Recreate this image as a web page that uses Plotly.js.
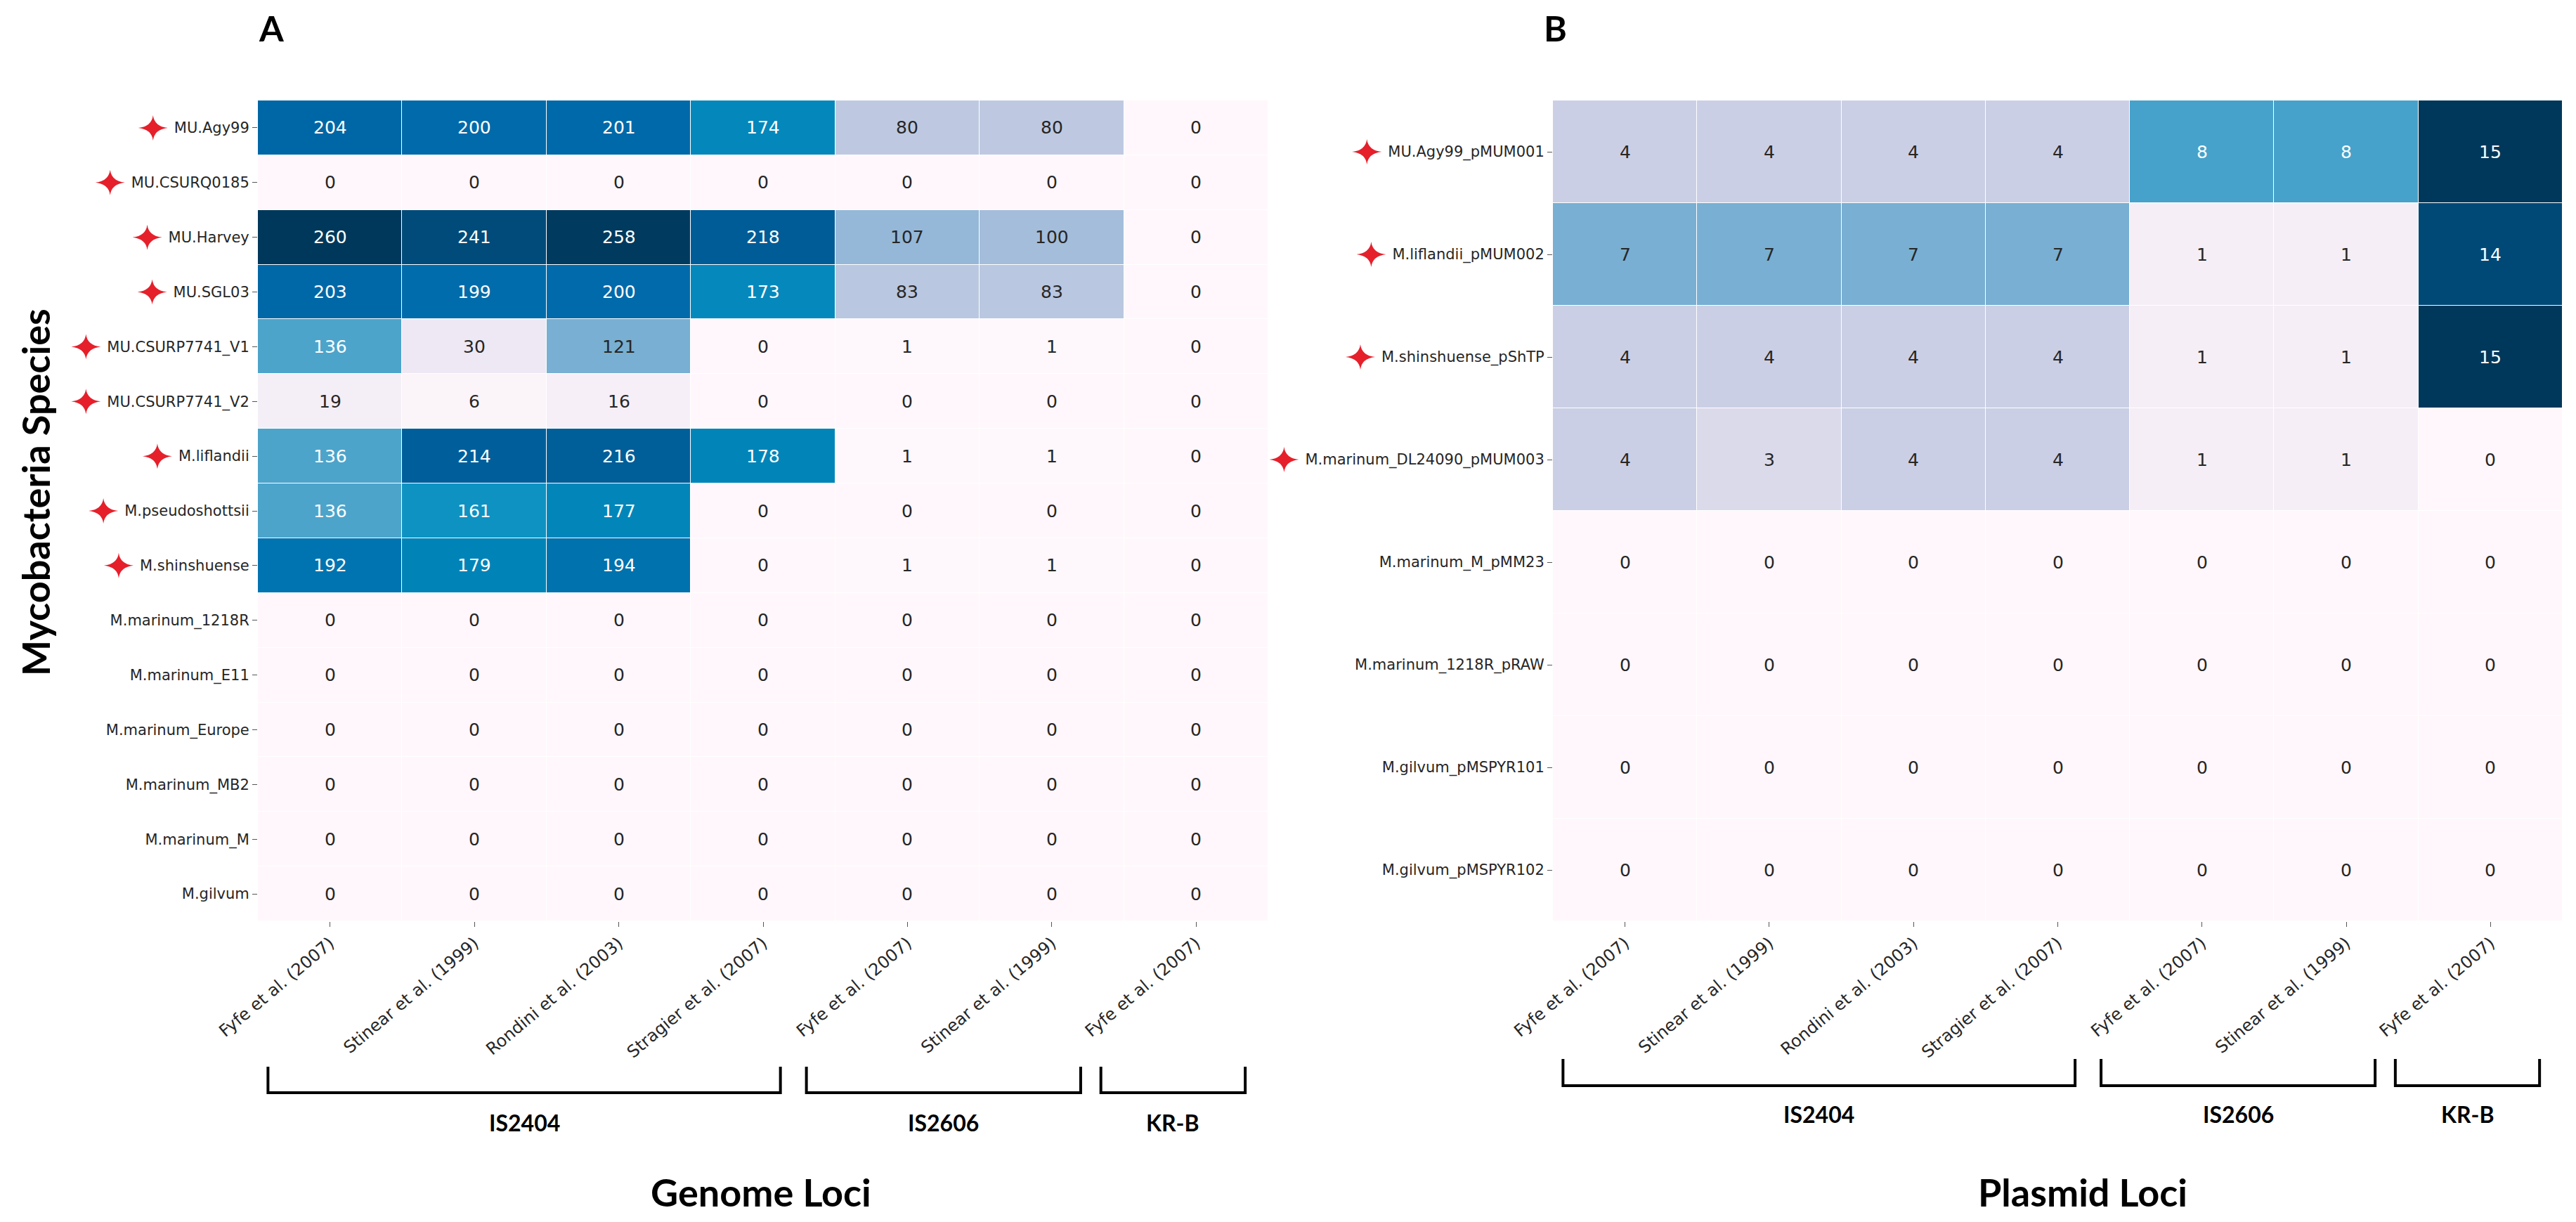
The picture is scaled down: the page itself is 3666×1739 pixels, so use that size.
<!DOCTYPE html>
<html>
<head>
<meta charset="utf-8">
<script src="https://cdn.plot.ly/plotly-3.0.1.min.js"></script>
<style>html,body{margin:0;padding:0;background:#fff;}#chart{width:3666px;height:1739px;}</style>
</head>
<body>
<div id="chart"></div>
<script>
// ---------------- data ----------------
const lociColumns = ["Fyfe et al. (2007)", "Stinear et al. (1999)", "Rondini et al. (2003)", "Stragier et al. (2007)",
                     "Fyfe et al. (2007)", "Stinear et al. (1999)", "Fyfe et al. (2007)"];
const lociGroups = ["IS2404", "IS2606", "KR-B"];
const lociGroupFirstCol = [0, 4, 6];
const lociGroupLastCol = [3, 5, 6];

const genomeSpecies = ["MU.Agy99", "MU.CSURQ0185", "MU.Harvey", "MU.SGL03", "MU.CSURP7741_V1", "MU.CSURP7741_V2",
  "M.liflandii", "M.pseudoshottsii", "M.shinshuense", "M.marinum_1218R", "M.marinum_E11", "M.marinum_Europe",
  "M.marinum_MB2", "M.marinum_M", "M.gilvum"];
const genomeStarred = [true, true, true, true, true, true, true, true, true, false, false, false, false, false, false];
const genomeCounts = [
  [204, 200, 201, 174, 80, 80, 0],
  [0, 0, 0, 0, 0, 0, 0],
  [260, 241, 258, 218, 107, 100, 0],
  [203, 199, 200, 173, 83, 83, 0],
  [136, 30, 121, 0, 1, 1, 0],
  [19, 6, 16, 0, 0, 0, 0],
  [136, 214, 216, 178, 1, 1, 0],
  [136, 161, 177, 0, 0, 0, 0],
  [192, 179, 194, 0, 1, 1, 0],
  [0, 0, 0, 0, 0, 0, 0],
  [0, 0, 0, 0, 0, 0, 0],
  [0, 0, 0, 0, 0, 0, 0],
  [0, 0, 0, 0, 0, 0, 0],
  [0, 0, 0, 0, 0, 0, 0],
  [0, 0, 0, 0, 0, 0, 0]
];

const plasmidNames = ["MU.Agy99_pMUM001", "M.liflandii_pMUM002", "M.shinshuense_pShTP", "M.marinum_DL24090_pMUM003",
  "M.marinum_M_pMM23", "M.marinum_1218R_pRAW", "M.gilvum_pMSPYR101", "M.gilvum_pMSPYR102"];
const plasmidStarred = [true, true, true, true, false, false, false, false];
const plasmidCounts = [
  [4, 4, 4, 4, 8, 8, 15],
  [7, 7, 7, 7, 1, 1, 14],
  [4, 4, 4, 4, 1, 1, 15],
  [4, 3, 4, 4, 1, 1, 0],
  [0, 0, 0, 0, 0, 0, 0],
  [0, 0, 0, 0, 0, 0, 0],
  [0, 0, 0, 0, 0, 0, 0],
  [0, 0, 0, 0, 0, 0, 0]
];

// ---------------- style ----------------
const W = 3666, H = 1739;
// PuBu-like ramp, tuned to the (more saturated) tones of the reference picture
const ramp = [
  [0.0, "#fff7fb"], [0.125, "#ece7f2"], [0.25, "#d0d1e6"], [0.375, "#a9bfdc"], [0.47, "#76aed2"],
  [0.53, "#48a3ca"], [0.62, "#0e92c2"], [0.69, "#0084b8"], [0.77, "#006aaa"], [0.85, "#005a94"],
  [0.93, "#004a78"], [1.0, "#00385b"]
];
const TXT = "#262626";
const STAR = "#e5202b";
const baseFont = "DejaVu Sans";
const boldFont = "Lato";

function hexToRgb(h) { return [1, 3, 5].map(i => parseInt(h.substr(i, 2), 16)); }
function cmap(t) {
  t = Math.max(0, Math.min(1, t));
  let i = 0;
  while (i < ramp.length - 2 && t > ramp[i + 1][0]) i++;
  const f = (t - ramp[i][0]) / (ramp[i + 1][0] - ramp[i][0]);
  const a = hexToRgb(ramp[i][1]), b = hexToRgb(ramp[i + 1][1]);
  return a.map((v, k) => v + (b[k] - v) * f);
}
function lum(rgb) {
  const l = rgb.map(c => { c /= 255; return c <= 0.03928 ? c / 12.92 : Math.pow((c + 0.055) / 1.055, 2.4); });
  return 0.2126 * l[0] + 0.7152 * l[1] + 0.0722 * l[2];
}
const px = x => x / W;          // horizontal pixel -> paper
const py = y => (H - y) / H;     // vertical pixel (from top) -> paper

const colIdx = lociColumns.map((_, i) => i);

function heat(z, xa, ya) {
  return {
    type: "heatmap", z: z, x: colIdx, y: z.map((_, i) => i),
    xaxis: xa, yaxis: ya, colorscale: ramp, zmin: 0,
    zmax: Math.max(...z.flat()), showscale: false, xgap: 1, ygap: 1, hoverinfo: "skip"
  };
}

function cellAnnotations(z, xref, yref) {
  const zmax = Math.max(...z.flat());
  const out = [];
  z.forEach((row, r) => row.forEach((v, c) => {
    const col = lum(cmap(v / zmax)) > 0.37 ? TXT : "#ffffff";
    out.push({ x: c, y: r, xref: xref, yref: yref, text: String(v), showarrow: false,
      xanchor: "center", yanchor: "middle",
      font: { family: baseFont, size: 25, color: col } });
  }));
  return out;
}

function brackets(xref, yTopPx, yBotPx, labelYPx) {
  const padL = [0.43, 0.70, 0.66], padR = [0.12, 0.20, 0.34];
  const shapes = [], anns = [];
  lociGroups.forEach((g, i) => {
    const x0 = lociGroupFirstCol[i] - padL[i], x1 = lociGroupLastCol[i] + padR[i];
    const yt = py(yTopPx), yb = py(yBotPx);
    shapes.push({ type: "path", xref: xref, yref: "paper",
      path: `M ${x0} ${yt} L ${x0} ${yb} L ${x1} ${yb} L ${x1} ${yt}`,
      line: { color: "#000", width: 4 } });
    anns.push({ x: (x0 + x1) / 2, y: py(labelYPx), xref: xref, yref: "paper", text: "<b>" + g + "</b>",
      showarrow: false, xanchor: "center", yanchor: "middle",
      font: { family: boldFont, size: 32, color: "#000" } });
  });
  return { shapes, anns };
}

function label(text, xPx, yPx, size, angle) {
  return { x: px(xPx), y: py(yPx), xref: "paper", yref: "paper", text: "<b>" + text + "</b>", showarrow: false,
    xanchor: "center", yanchor: "middle", textangle: angle || 0,
    font: { family: boldFont, size: size, color: "#000" } };
}

const axisCommon = {
  showgrid: false, zeroline: false, showline: false, ticks: "outside", ticklen: 7, tickwidth: 1,
  tickcolor: "#555", automargin: false, fixedrange: true
};
const yDomain = [py(1311), py(143)];

const layout = {
  width: W, height: H, margin: { l: 0, r: 0, t: 0, b: 0 },
  paper_bgcolor: "#fff", plot_bgcolor: "#fff", showlegend: false,
  xaxis: Object.assign({}, axisCommon, { domain: [px(367), px(1805)], anchor: "y", range: [-0.5, 6.5],
    tickvals: colIdx, ticktext: lociColumns, tickangle: -40, tickfont: { family: baseFont, size: 24, color: TXT } }),
  yaxis: Object.assign({}, axisCommon, { domain: yDomain, anchor: "x", range: [genomeSpecies.length - 0.5, -0.5],
    tickvals: genomeSpecies.map((_, i) => i), ticktext: genomeSpecies,
    tickfont: { family: baseFont, size: 21, color: TXT } }),
  xaxis2: Object.assign({}, axisCommon, { domain: [px(2210), px(3647)], anchor: "y2", range: [-0.5, 6.5],
    tickvals: colIdx, ticktext: lociColumns, tickangle: -40, tickfont: { family: baseFont, size: 24, color: TXT } }),
  yaxis2: Object.assign({}, axisCommon, { domain: yDomain, anchor: "x2", range: [plasmidNames.length - 0.5, -0.5],
    tickvals: plasmidNames.map((_, i) => i), ticktext: plasmidNames,
    tickfont: { family: baseFont, size: 21, color: TXT } }),
  annotations: [], shapes: []
};

const bA = brackets("x", 1518, 1555, 1597);
const bB = brackets("x2", 1507, 1545, 1585);
layout.shapes = bA.shapes.concat(bB.shapes);
layout.annotations = cellAnnotations(genomeCounts, "x", "y")
  .concat(cellAnnotations(plasmidCounts, "x2", "y2"))
  .concat(bA.anns, bB.anns)
  .concat([
    label("A", 386, 40, 50),
    label("B", 2213, 40, 50),
    label("Genome Loci", 1083, 1696, 54),
    label("Plasmid Loci", 2964, 1696, 54),
    label("Mycobacteria Species", 50, 701, 54, -90)
  ]);

// thin four-pointed star drawn in pixels, placed left of each starred row label
const starPath = "M -21 0 Q -2 2 0 18 Q 2 2 21 0 Q 2 -2 0 -18 Q -2 -2 -21 0 Z";

Plotly.newPlot("chart", [heat(genomeCounts, "x", "y"), heat(plasmidCounts, "x2", "y2")], layout,
  { staticPlot: true, displayModeBar: false }).then(gd => {
  const gdLeft = gd.getBoundingClientRect().left;
  const stars = [];
  [["ytick", "y", genomeSpecies, genomeStarred], ["y2tick", "y2", plasmidNames, plasmidStarred]].forEach(([cls, yref, names, starred]) => {
    gd.querySelectorAll("g." + cls + " text").forEach(el => {
      const idx = names.indexOf(el.textContent);
      if (idx < 0 || !starred[idx]) return;
      const left = el.getBoundingClientRect().left - gdLeft;
      stars.push({ type: "path", xref: "paper", yref: yref, xsizemode: "pixel", ysizemode: "pixel",
        xanchor: (left - 30) / W, yanchor: idx, path: starPath,
        fillcolor: STAR, line: { width: 0 } });
    });
  });
  return Plotly.relayout(gd, { shapes: layout.shapes.concat(stars) });
});
</script>
</body>
</html>
